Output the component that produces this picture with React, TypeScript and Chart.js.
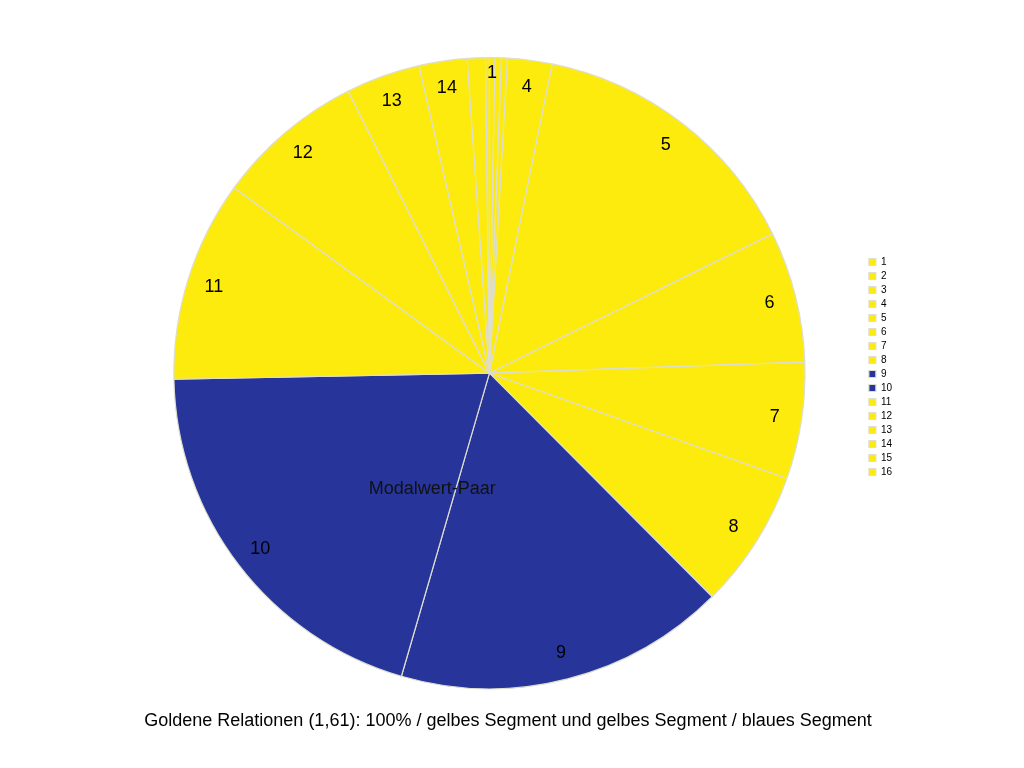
import React, { useEffect, useRef } from "react";
import { Chart, registerables } from "chart.js";

Chart.register(...registerables);

const categories = ["1", "2", "3", "4", "5", "6", "7", "8", "9", "10", "11", "12", "13", "14", "15", "16"];
const values = [1.0, 1.2, 1.1, 8.2, 52.3, 24.2, 21.5, 25.6, 61.1, 72.7, 37.1, 27.4, 13.7, 8.85, 3.35, 0.7];
const sliceLabels = ["1", "", "", "4", "5", "6", "7", "8", "9", "10", "11", "12", "13", "14", "", ""];
const blueSlices = ["9", "10"];
const annotationText = "Modalwert-Paar";
const titleText = "Goldene Relationen (1,61): 100% / gelbes Segment und gelbes Segment / blaues Segment";

const YELLOW = "#FDEB0E";
const BLUE = "#27359A";
const FONT = "'Liberation Sans', Arial, sans-serif";

const labelPlugin = {
  id: "sliceLabels",
  afterDatasetsDraw(chart: any) {
    const meta = chart.getDatasetMeta(0);
    const ctx = chart.ctx;
    ctx.save();
    ctx.fillStyle = "#000";
    ctx.font = `18px ${FONT}`;
    ctx.textAlign = "center";
    ctx.textBaseline = "middle";
    meta.data.forEach((arc: any, i: number) => {
      const txt = sliceLabels[i];
      if (!txt) return;
      const p = arc.getProps(["x", "y", "startAngle", "endAngle", "outerRadius"], true);
      const mid = (p.startAngle + p.endAngle) / 2;
      const r = p.outerRadius * (i === 0 ? 0.95 : 0.915);
      ctx.fillText(txt, p.x + r * Math.cos(mid), p.y + r * Math.sin(mid));
    });
    // annotation for the blue pair
    const a9 = meta.data[categories.indexOf(blueSlices[0])].getProps(["x", "y", "endAngle", "outerRadius"], true);
    const ang = a9.endAngle + (10 * Math.PI) / 180;
    const rr = a9.outerRadius * 0.41;
    ctx.fillStyle = "#111";
    ctx.fillText(annotationText, a9.x + rr * Math.cos(ang), a9.y + rr * Math.sin(ang));
    ctx.restore();
  },
};

export default function App() {
  const ref = useRef<HTMLCanvasElement>(null);
  useEffect(() => {
    if (!ref.current) return;
    const colors = categories.map((c) => (blueSlices.includes(c) ? BLUE : YELLOW));
    const chart = new Chart(ref.current, {
      type: "pie",
      data: {
        labels: categories,
        datasets: [
          {
            data: values,
            backgroundColor: colors,
            borderColor: "#DEDED0",
            borderWidth: 1.2,
          },
        ],
      },
      options: {
        animation: false,
        responsive: false,
        devicePixelRatio: 1,
        layout: { padding: { top: 57, bottom: 15, left: 114, right: 122 } },
        plugins: {
          tooltip: { enabled: false },
          legend: {
            position: "right",
            fullSize: false,
            align: "start",
            title: {
              display: true,
              text: "",
              font: { size: 10, family: FONT },
              padding: { top: 0, bottom: 184 },
            },
            labels: {
              boxWidth: 7,
              boxHeight: 7,
              padding: 4,
              color: "#000",
              font: { size: 10, family: FONT },
            },
          },
          title: {
            display: true,
            position: "bottom",
            text: titleText,
            color: "#000",
            font: { size: 18, family: FONT, weight: "normal" },
            padding: { top: 21, bottom: 21 },
          },
        },
      },
      plugins: [labelPlugin],
    });
    return () => chart.destroy();
  }, []);
  return (
    <div style={{ position: "fixed", left: 0, top: 0, width: 1024, height: 768, background: "#fff" }}>
      <canvas ref={ref} width={1024} height={768} />
    </div>
  );
}
